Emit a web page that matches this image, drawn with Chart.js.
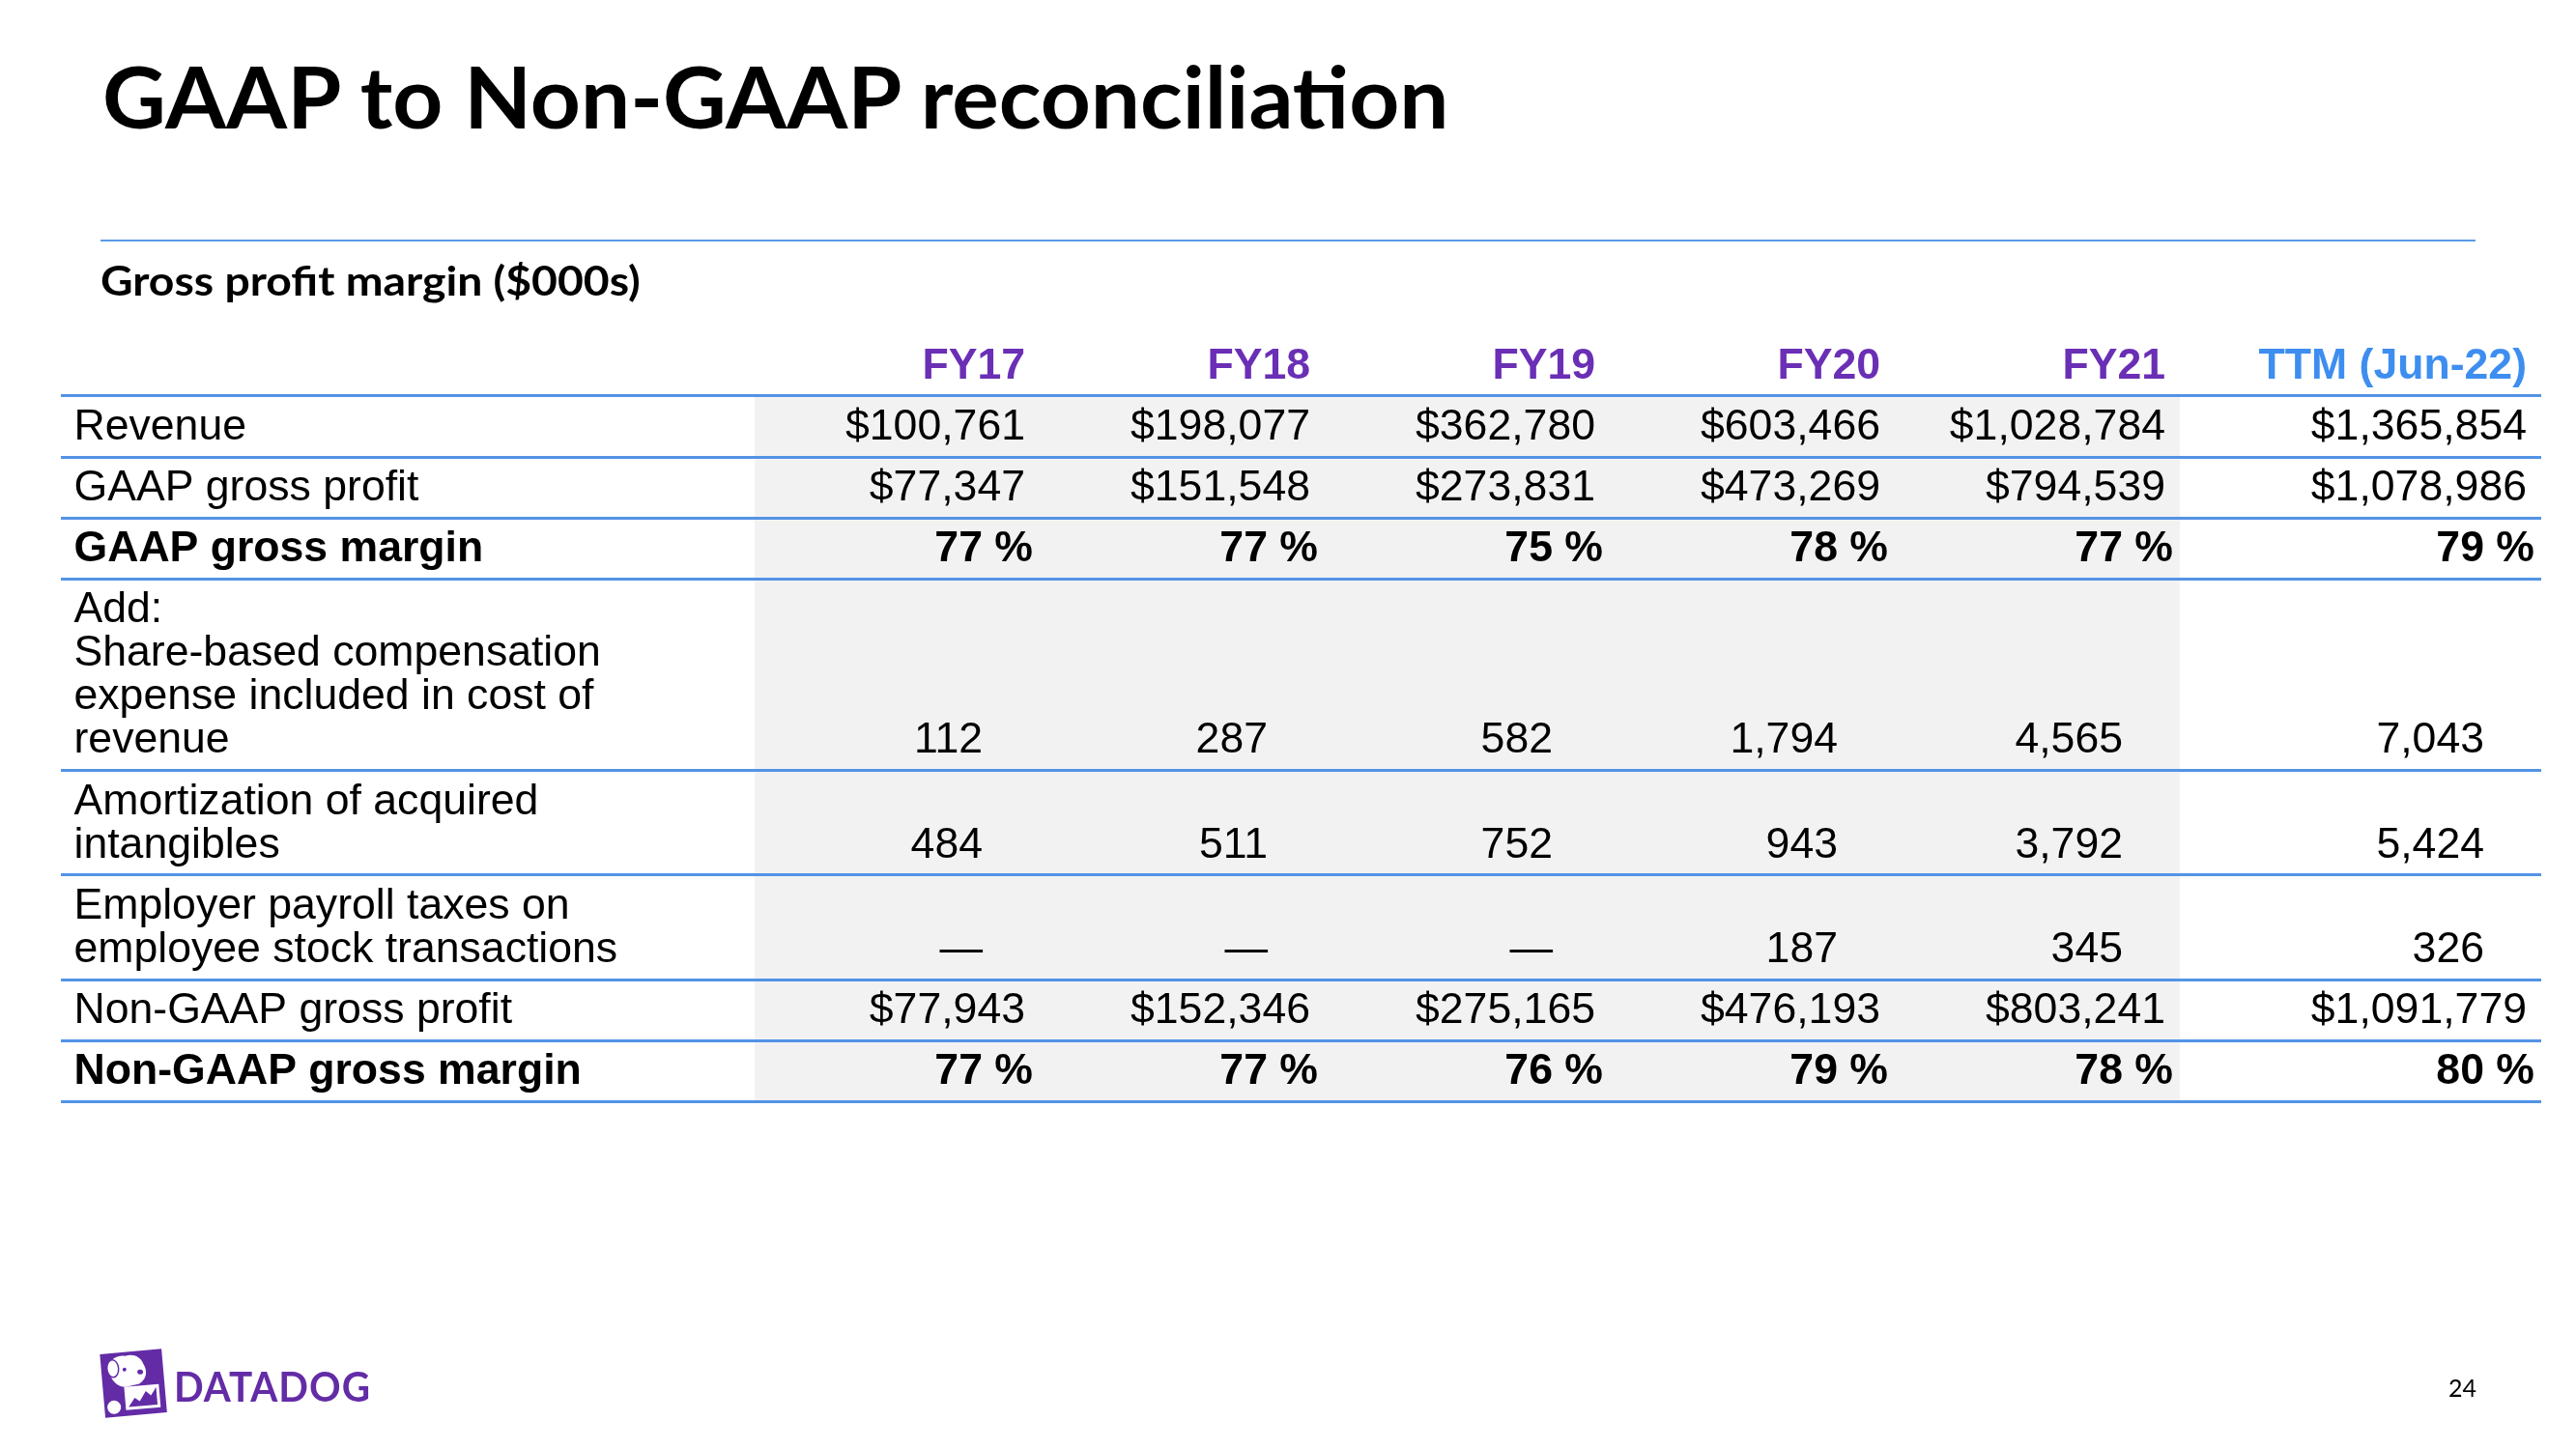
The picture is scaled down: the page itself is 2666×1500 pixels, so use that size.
<!DOCTYPE html>
<html>
<head>
<meta charset="utf-8">
<script src="https://cdn.jsdelivr.net/npm/chart.js@4.4.1/dist/chart.umd.min.js"></script>
<style>
  html, body { margin: 0; padding: 0; background: #fff; }
  #page { position: relative; width: 2666px; height: 1500px; overflow: hidden; background: #fff; }
  #table { position: absolute; left: 0; top: 0; }
  .fit { position: absolute; white-space: nowrap; line-height: 1; transform-origin: 0 0; }
  #title { left: 106px; top: 46px; font: 700 88px Lato, "Open Sans", sans-serif; color: #000; }
  #subtitle { left: 104px; top: 265px; font: 700 42px Lato, "Open Sans", sans-serif; color: #000; }
  #rule { position: absolute; left: 104px; top: 248px; width: 2458px; height: 2px; background: #5b9be6; }
  #pageNo { position: absolute; right: 103px; top: 1424px; font: 400 25px Lato, "Open Sans", sans-serif; line-height: 1; color: #000; }
  #logoIcon { position: absolute; left: 100px; top: 1393px; }
  #logoText { left: 180px; top: 1410px; font: 700 42px Lato, "Open Sans", sans-serif; color: #632ca6; letter-spacing: 1px; }
</style>
</head>
<body>
<div id="page">
  <canvas id="table" width="2666" height="1500"></canvas>
  <div id="title" class="fit">GAAP to Non-GAAP reconciliation</div>
  <div id="rule"></div>
  <div id="subtitle" class="fit">Gross profit margin ($000s)</div>
  <svg id="logoIcon" width="76" height="76" viewBox="0 0 76 76">
    <g transform="rotate(-5 38 38)">
      <rect x="6" y="6" width="64" height="66" fill="#632ca6"/>
      <path d="M14 22 C14 12 24 8 32 10 C40 8 48 12 50 20 C54 28 52 36 44 40 L30 42 C22 42 14 34 14 22 Z" fill="#fff"/>
      <ellipse cx="18" cy="22" rx="6" ry="9" fill="#fff" stroke="#632ca6" stroke-width="1.5"/>
      <circle cx="30" cy="24" r="2" fill="#632ca6"/>
      <ellipse cx="46" cy="28" rx="3" ry="2.5" fill="#632ca6"/>
      <circle cx="16" cy="62" r="7" fill="#fff"/>
      <rect x="28" y="42" width="36" height="24" fill="#fff"/>
      <path d="M31 63 L38 54 L43 58 L50 48 L55 53 L61 45 L61 63 Z" fill="#632ca6"/>
    </g>
  </svg>
  <div id="logoText" class="fit">DATADOG</div>
  <div id="pageNo">24</div>
</div>
<script>
// column headers and row labels
const columns = ['FY17', 'FY18', 'FY19', 'FY20', 'FY21', 'TTM (Jun-22)'];
const rowLabels = [
  'Revenue',
  'GAAP gross profit',
  'GAAP gross margin',
  ['Add:', 'Share-based compensation', 'expense included in cost of', 'revenue'],
  ['Amortization of acquired', 'intangibles'],
  ['Employer payroll taxes on', 'employee stock transactions'],
  'Non-GAAP gross profit',
  'Non-GAAP gross margin'
];

// values in $000s, margins in %
const revenue = [100761, 198077, 362780, 603466, 1028784, 1365854];
const gaapGrossProfit = [77347, 151548, 273831, 473269, 794539, 1078986];
const gaapGrossMargin = [77, 77, 75, 78, 77, 79];
const sbcInCostOfRevenue = [112, 287, 582, 1794, 4565, 7043];
const amortization = [484, 511, 752, 943, 3792, 5424];
const payrollTaxes = [null, null, null, 187, 345, 326];
const nonGaapGrossProfit = [77943, 152346, 275165, 476193, 803241, 1091779];
const nonGaapGrossMargin = [77, 77, 76, 79, 78, 80];

const rowValues = [revenue, gaapGrossProfit, gaapGrossMargin, sbcInCostOfRevenue,
  amortization, payrollTaxes, nonGaapGrossProfit, nonGaapGrossMargin];
const rowFormats = ['money', 'money', 'pct', 'plain', 'plain', 'plain', 'money', 'pct'];
const boldRows = [false, false, true, false, false, false, false, true];

// layout (table units are 1:1 with pixels)
const LABEL_W = 718.5, COL_W = 295, TTM_W = 374;
const HEADER_H = 63.2, LINE_H = 45, ROW_PAD = 18.2;
const FONT_SIZE = '44.6px ';
const FONT = '"Liberation Sans", Arial, sans-serif';
const PURPLE = '#6a2fb5', TTM_BLUE = '#3e8ef0', LINE_BLUE = '#5393e6', SHADE = '#f2f2f2';

const colWidths = columns.map((c, i) => i === columns.length - 1 ? TTM_W : COL_W);
const colRights = [];
colWidths.reduce((acc, w) => { colRights.push(acc + w); return acc + w; }, LABEL_W);
const tableW = colRights[colRights.length - 1];

const lineCounts = rowLabels.map(l => Array.isArray(l) ? l.length : 1);
const rowTops = [];
const rowBottoms = [];
lineCounts.reduce((top, n) => {
  rowTops.push(top);
  rowBottoms.push(top + n * LINE_H + ROW_PAD);
  return top + n * LINE_H + ROW_PAD;
}, HEADER_H);
const tableH = rowBottoms[rowBottoms.length - 1];

function fmt(v, kind) {
  if (v === null || v === undefined) return '\u2014';
  if (kind === 'money') return '$' + v.toLocaleString('en-US');
  if (kind === 'pct') return v + ' %';
  return v.toLocaleString('en-US');
}
// right inset from column edge, per format
const insets = { money: 15, pct: 7, plain: 59 };

const datasets = columns.map((col, c) => ({
  label: col,
  data: rowValues.map((vals, r) => ({ x: colRights[c], y: rowBottoms[r] - ROW_PAD })),
  pointRadius: 0,
  showLine: false
}));

const shadePlugin = {
  id: 'shade',
  beforeDraw(chart) {
    const { ctx, scales: { x, y } } = chart;
    const x0 = x.getPixelForValue(LABEL_W);
    const x1 = x.getPixelForValue(colRights[columns.length - 2]);
    const y0 = y.getPixelForValue(HEADER_H);
    const y1 = y.getPixelForValue(tableH);
    ctx.save();
    ctx.fillStyle = SHADE;
    ctx.fillRect(x0, y0, x1 - x0, y1 - y0);
    ctx.restore();
  }
};

const textPlugin = {
  id: 'tableText',
  afterDatasetsDraw(chart) {
    const { ctx, scales: { x, y } } = chart;
    ctx.save();
    ctx.textBaseline = 'alphabetic';

    // header
    ctx.textAlign = 'right';
    ctx.font = 'bold ' + FONT_SIZE + FONT;
    columns.forEach((col, c) => {
      ctx.fillStyle = c === columns.length - 1 ? TTM_BLUE : PURPLE;
      ctx.fillText(col, x.getPixelForValue(colRights[c]) - 15, y.getPixelForValue(HEADER_H - ROW_PAD));
    });

    // row labels
    ctx.textAlign = 'left';
    ctx.fillStyle = '#000';
    rowLabels.forEach((label, r) => {
      ctx.font = (boldRows[r] ? 'bold ' : '') + FONT_SIZE + FONT;
      const lines = Array.isArray(label) ? label : [label];
      lines.forEach((line, i) => {
        ctx.fillText(line, x.getPixelForValue(14), y.getPixelForValue(rowTops[r] + LINE_H * (i + 1)));
      });
    });

    // values
    ctx.textAlign = 'right';
    chart.data.datasets.forEach((ds, c) => {
      const meta = chart.getDatasetMeta(c);
      meta.data.forEach((pt, r) => {
        ctx.font = (boldRows[r] ? 'bold ' : '') + FONT_SIZE + FONT;
        ctx.fillText(fmt(rowValues[r][c], rowFormats[r]), pt.x - insets[rowFormats[r]], pt.y);
      });
    });
    ctx.restore();
  }
};

function fitWidth(id, target) {
  const el = document.getElementById(id);
  el.style.transform = 'scaleX(' + (target / el.offsetWidth) + ')';
}

function draw() {
  fitWidth('title', 1394);
  fitWidth('subtitle', 559);
  fitWidth('logoText', 204);

  new Chart(document.getElementById('table').getContext('2d'), {
    type: 'scatter',
    data: { datasets },
    options: {
      responsive: false,
      animation: false,
      devicePixelRatio: 1,
      events: [],
      layout: { padding: { left: 62.5, right: 2666 - 62.5 - tableW, top: 346.6, bottom: 1500 - 346.6 - tableH } },
      plugins: { legend: { display: false }, tooltip: { enabled: false } },
      scales: {
        x: { type: 'linear', display: false, min: 0, max: tableW },
        y: {
          type: 'linear',
          reverse: true,
          min: 0,
          max: tableH,
          afterFit: s => { s.width = 0; },
          afterBuildTicks: s => { s.ticks = [HEADER_H].concat(rowBottoms).map(v => ({ value: v })); },
          ticks: { display: false },
          border: { display: false },
          grid: { color: LINE_BLUE, lineWidth: 3, drawTicks: false }
        }
      }
    },
    plugins: [shadePlugin, textPlugin]
  });
}

Promise.all([
  document.fonts.load('44px "Liberation Sans"'),
  document.fonts.load('bold 44px "Liberation Sans"'),
  document.fonts.load('700 88px Lato'),
  document.fonts.load('400 25px Lato')
]).then(draw, draw);
</script>
</body>
</html>
